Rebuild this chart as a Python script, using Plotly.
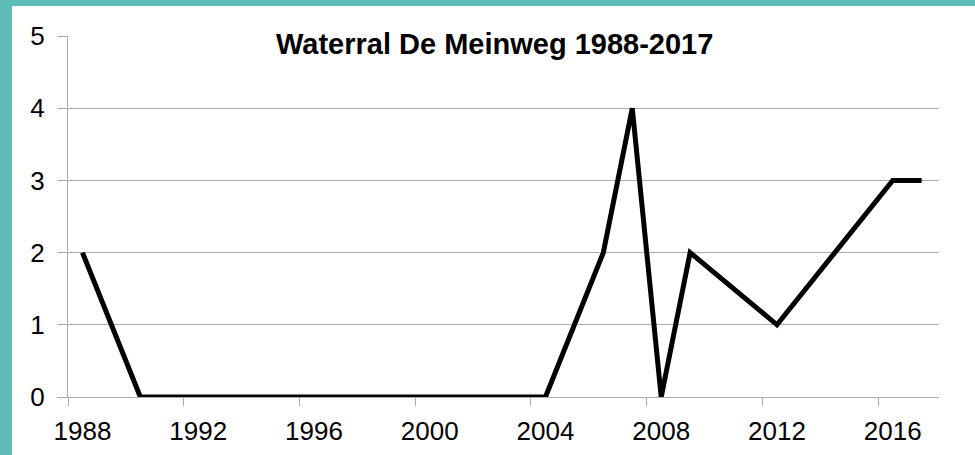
import plotly.graph_objects as go

years = [1988, 1990, 2004, 2006, 2007, 2008, 2009, 2012, 2016, 2017]
counts = [2, 0, 0, 2, 4, 0, 2, 1, 3, 3]
x_tick_labels = [1988, 1992, 1996, 2000, 2004, 2008, 2012, 2016]
y_ticks = [0, 1, 2, 3, 4, 5]
title_text = "Waterral De Meinweg 1988-2017"

W, H = 975, 455
L, R, T, B = 68, 36, 36, 58
pw, ph = W - L - R, H - T - B
teal = "#5EBCB6"
grid = "#ABABAB"
font = "Liberation Sans, Arial, sans-serif"

fig = go.Figure()
fig.add_trace(go.Scatter(x=years, y=counts, mode="lines",
                         line=dict(color="black", width=5),
                         hoverinfo="skip", showlegend=False))

def px_x(p):
    return (p - L) / pw

def px_y(p):
    return (H - B - p) / ph

fig.update_layout(
    width=W, height=H,
    margin=dict(l=L, r=R, t=T, b=B, pad=0, autoexpand=False),
    paper_bgcolor="white", plot_bgcolor="white",
    font=dict(family=font, size=26, color="black"),
    xaxis=dict(
        range=[1987.5, 2017.6], automargin=False,
        tickmode="array", tickvals=x_tick_labels,
        ticktext=[str(v) for v in x_tick_labels],
        ticks="", showgrid=False, zeroline=False,
        showline=True, linecolor=grid, linewidth=1.3,
        tickfont=dict(size=26), ticklabelstandoff=11,
        minor=dict(tickmode="array",
                   tickvals=[v - 0.5 for v in x_tick_labels],
                   ticks="outside", ticklen=8, tickcolor=grid,
                   tickwidth=1.3, showgrid=False),
    ),
    yaxis=dict(
        range=[0, 5], tickmode="array", tickvals=y_ticks, automargin=False,
        ticks="outside", ticklen=10, tickcolor=grid, tickwidth=1.3,
        showgrid=True, gridcolor=grid, gridwidth=1.3,
        zeroline=False, showline=True, linecolor=grid, linewidth=1.3,
        tickfont=dict(size=26), ticklabelstandoff=7,
    ),
    annotations=[dict(
        text="<b>" + title_text + "</b>",
        xref="paper", yref="paper",
        x=px_x(494), y=px_y(44), xanchor="center", yanchor="middle",
        showarrow=False, font=dict(family=font, size=29, color="black"),
    )],
    shapes=[
        dict(type="rect", xref="paper", yref="paper",
             x0=px_x(0), x1=px_x(12), y0=px_y(H), y1=px_y(0),
             fillcolor=teal, line=dict(width=0), layer="above"),
        dict(type="rect", xref="paper", yref="paper",
             x0=px_x(0), x1=px_x(W), y0=px_y(6), y1=px_y(0),
             fillcolor=teal, line=dict(width=0), layer="above"),
    ],
)

fig.write_html("out.html", config={"displayModeBar": False},
               post_script="document.body.style.margin='0';document.body.style.overflow='hidden';")
